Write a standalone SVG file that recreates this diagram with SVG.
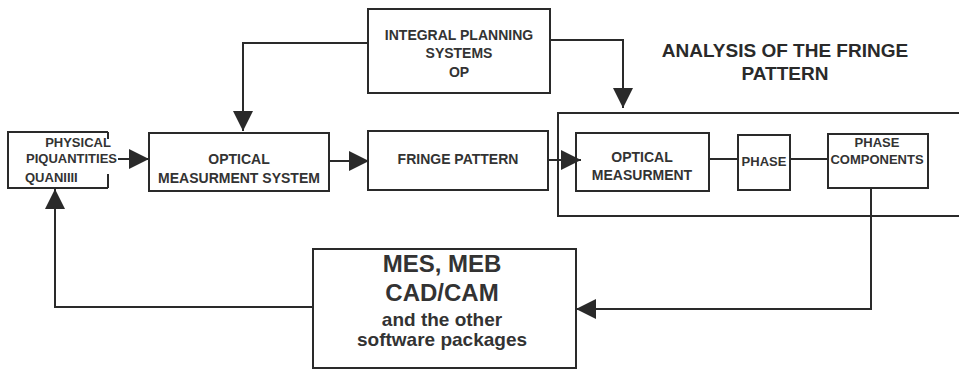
<svg xmlns="http://www.w3.org/2000/svg" width="959" height="370" viewBox="0 0 959 370">
<style>
.box{fill:none;stroke:#2a2a2a;stroke-width:2}
.ln{fill:none;stroke:#2a2a2a;stroke-width:2}
.t{font-family:"Liberation Sans",Arial,sans-serif;font-weight:bold;fill:#333;font-size:14px;text-anchor:middle}
.s13{font-size:13px}
.big{font-size:24px}
.mid{font-size:19px}
.title{font-size:19px;fill:#2a2a2a}
</style>
<defs>
<marker id="ah" viewBox="0 0 20 20" markerUnits="userSpaceOnUse" markerWidth="20" markerHeight="20" refX="20" refY="10" orient="auto">
<path d="M0,0 L20,10 L0,20 z" fill="#2a2a2a"/>
</marker>
</defs>
<rect width="959" height="370" fill="#fff"/>

<g id="analysis">
<path class="ln" d="M959,113 L558,113 L558,216 L959,216"/>
<text class="t title" x="785" y="57">ANALYSIS OF THE FRINGE</text>
<text class="t title" x="785" y="80">PATTERN</text>
</g>

<g id="physical">
<path class="box" d="M108,132 L8,132 L8,188 L108,188 M108,132 L108,139 M108,174 L108,188"/>
<text class="t s13" x="78" y="147">PHYSICAL</text>
<text class="t s13" x="26" y="163" style="text-anchor:start">PIQUANTITIES</text>
<text class="t s13" x="25" y="182" style="text-anchor:start">QUANIIII</text>
</g>

<g id="optical-system">
<rect class="box" x="149" y="133" width="180" height="58"/>
<text class="t" x="239" y="164">OPTICAL</text>
<text class="t" x="239" y="183">MEASURMENT SYSTEM</text>
</g>

<g id="fringe">
<rect class="box" x="368" y="131" width="180" height="59"/>
<text class="t" x="458" y="164">FRINGE PATTERN</text>
</g>

<g id="integral">
<rect class="box" x="368" y="9" width="182" height="84"/>
<text class="t" x="459" y="40">INTEGRAL PLANNING</text>
<text class="t" x="459" y="58">SYSTEMS</text>
<text class="t" x="459" y="77">OP</text>
</g>

<g id="optical-measurment">
<rect class="box" x="576" y="133" width="133" height="58"/>
<text class="t" x="642" y="162">OPTICAL</text>
<text class="t" x="642" y="180">MEASURMENT</text>
</g>

<g id="phase">
<rect class="box" x="738" y="135" width="52" height="55"/>
<text class="t s13" x="764" y="166">PHASE</text>
</g>

<g id="components">
<rect class="box" x="828" y="134" width="100" height="54"/>
<text class="t s13" x="877" y="147">PHASE</text>
<text class="t s13" x="877" y="164">COMPONENTS</text>
</g>

<g id="mes">
<rect class="box" x="313" y="249" width="263" height="119"/>
<text class="t big" x="442" y="272">MES, MEB</text>
<text class="t big" x="442" y="301">CAD/CAM</text>
<text class="t mid" x="442" y="326">and the other</text>
<text class="t mid" x="442" y="346">software packages</text>
</g>

<g id="connectors">
<path class="ln" d="M118,159 L149,159" marker-end="url(#ah)"/>
<path class="ln" d="M329,161 L369,161" marker-end="url(#ah)"/>
<path class="ln" d="M548,160 L581,160" marker-end="url(#ah)"/>
<path class="ln" d="M709,159 L738,159"/>
<path class="ln" d="M790,159 L828,159"/>
<path class="ln" d="M368,43 L243,43 L243,131" marker-end="url(#ah)"/>
<path class="ln" d="M550,40 L623,40 L623,108" marker-end="url(#ah)"/>
<path class="ln" d="M871,188 L871,309 L576,309" marker-end="url(#ah)"/>
<path class="ln" d="M313,307 L55,307 L55,189" marker-end="url(#ah)"/>
</g>
</svg>
